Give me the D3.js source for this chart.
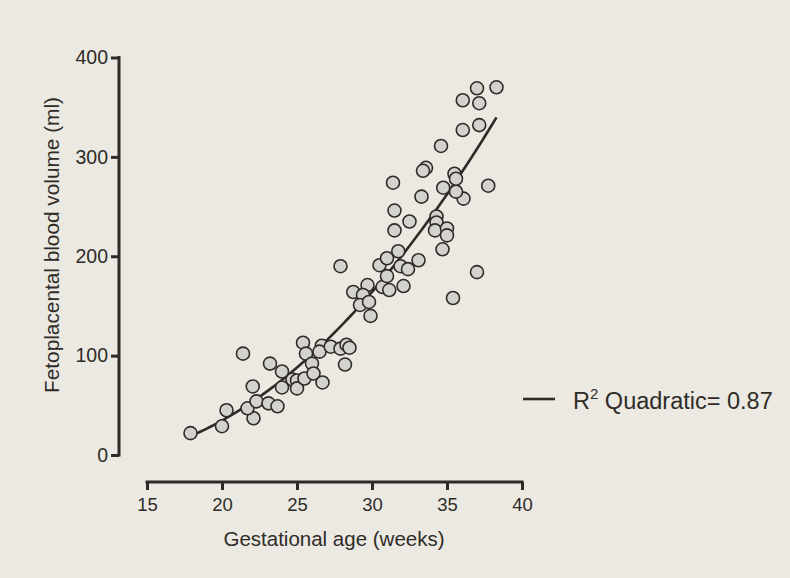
<!DOCTYPE html>
<meta charset="utf-8">
<style>
    body { margin: 0; background: #ebe9e2; }
    svg { display: block; }
    text { font-family: "Liberation Sans", Arial, sans-serif; fill: #2f2c28; }
    .axis path, .axis line { stroke: #2f2c28; stroke-width: 3; fill: none; }
    .axis text { font-size: 18.5px; font-family: "Liberation Sans", Arial, sans-serif; fill: #2f2c28; }
    .axis.yax text { font-size: 19.5px; }
    circle.pt { fill: #d3d2cc; stroke: #2f2c28; stroke-width: 1.6; }
    path.fit { fill: none; stroke: #2f2c28; stroke-width: 2.6; }
</style>
<body>
<script src="https://cdn.jsdelivr.net/npm/d3@7"></script>
<script>

    // gestational age (weeks) and fetoplacental blood volume (ml)
    var weeks = [17.9, 20.0, 20.3, 21.4, 22.05, 22.1, 21.7, 22.3, 23.1, 23.7,
                 23.2, 24.0, 24.0, 24.7, 25.0, 25.0, 25.5, 25.4, 25.6, 26.0,
                 26.1, 26.7, 26.65, 26.5, 27.25, 27.9, 28.3, 28.5, 28.2, 27.9,
                 30.5, 31.0, 31.75, 28.75, 29.7, 29.4, 29.2, 29.8, 29.9, 30.7,
                 31.15, 31.0, 32.1, 31.9, 32.4, 33.1, 34.7, 35.4, 37.0, 31.5,
                 32.5, 34.3, 34.3, 34.2, 35.0, 35.0, 31.5, 33.3, 36.1, 35.6,
                 34.75, 37.75, 35.5, 35.6, 31.4, 33.6, 33.4, 34.6, 36.05, 37.15,
                 36.05, 37.15, 37.0, 38.3];
    var volume = [22, 29, 45, 102, 69, 37, 47, 54, 52, 49,
                  92, 84, 68, 76, 75, 67, 77, 113, 102, 92,
                  82, 73, 110, 104, 109, 107, 111, 108, 91, 190,
                  191, 198, 205, 164, 171, 161, 151, 154, 140, 169,
                  166, 180, 170, 190, 187, 196, 207, 158, 184, 246,
                  235, 240, 234, 226, 228, 221, 226, 260, 258, 265,
                  269, 271, 283, 278, 274, 289, 286, 311, 327, 332,
                  357, 354, 369, 370];

    var xTicks = [15, 20, 25, 30, 35, 40];
    var yTicks = [0, 100, 200, 300, 400];
    var r2Text = "0.87";

    var pts = weeks.map(function(w, i) { return {w: w, v: volume[i]}; });

    // least-squares quadratic fit v = a + b*w + c*w^2
    function quadFit(data) {
        var S = [[0,0,0],[0,0,0],[0,0,0]], T = [0,0,0];
        data.forEach(function(d) {
            var p = [1, d.w, d.w * d.w];
            for (var i = 0; i < 3; i++) {
                T[i] += p[i] * d.v;
                for (var j = 0; j < 3; j++) S[i][j] += p[i] * p[j];
            }
        });
        // gaussian elimination
        var M = S.map(function(row, i) { return row.concat([T[i]]); });
        for (var i = 0; i < 3; i++) {
            for (var k = i + 1; k < 3; k++) {
                var f = M[k][i] / M[i][i];
                for (var j = i; j < 4; j++) M[k][j] -= f * M[i][j];
            }
        }
        var x = [0,0,0];
        for (var i = 2; i >= 0; i--) {
            var s = M[i][3];
            for (var j = i + 1; j < 3; j++) s -= M[i][j] * x[j];
            x[i] = s / M[i][i];
        }
        return x;
    }
    var coef = quadFit(pts);

    var width = 790, height = 578;

    var x = d3.scaleLinear().domain([15, 40]).range([147, 522]);
    var y = d3.scaleLinear().domain([0, 400]).range([455, 57.5]);

    var svg = d3.select("body").append("svg")
            .attr("width", width)
            .attr("height", height);

    svg.append("g")
            .attr("class", "axis yax")
            .attr("transform", "translate(119,0)")
            .call(d3.axisLeft(y).tickValues(yTicks).tickSize(8).tickPadding(3).tickSizeOuter(0))
            .call(function(g) { g.select(".domain").attr("d", "M0," + (y(0) + 1.5) + "V" + (y(400) - 1.5)); });

    svg.append("g")
            .attr("class", "axis xax")
            .attr("transform", "translate(0,482)")
            .call(d3.axisBottom(x).tickValues(xTicks).tickSize(8).tickPadding(8).tickSizeOuter(0))
            .call(function(g) { g.select(".domain").attr("d", "M" + (x(15) - 1.5) + ",0H" + (x(40) + 1.5)); });

    svg.append("text")
            .attr("transform", "translate(59,245) rotate(-90)")
            .attr("text-anchor", "middle")
            .style("font-size", "20.8px")
            .text("Fetoplacental blood volume (ml)");

    svg.append("text")
            .attr("x", 334)
            .attr("y", 546)
            .attr("text-anchor", "middle")
            .style("font-size", "20.5px")
            .text("Gestational age (weeks)");

    var wMin = d3.min(weeks), wMax = d3.max(weeks);
    var curve = d3.range(0, 61).map(function(i) {
        var w = wMin + (wMax - wMin) * i / 60;
        return [w, coef[0] + coef[1] * w + coef[2] * w * w];
    });

    svg.append("path")
            .attr("class", "fit")
            .attr("d", d3.line().x(function(d) { return x(d[0]); }).y(function(d) { return y(d[1]); })(curve));

    svg.selectAll("circle.pt").data(pts).enter()
            .append("circle")
            .attr("class", "pt")
            .attr("cx", function(d) { return x(d.w); })
            .attr("cy", function(d) { return y(d.v); })
            .attr("r", 6.5);

    // legend
    svg.append("line")
            .attr("x1", 523).attr("x2", 555)
            .attr("y1", 399).attr("y2", 399)
            .attr("stroke", "#2f2c28").attr("stroke-width", 2.6);

    var lt = svg.append("text")
            .attr("x", 573)
            .attr("y", 409)
            .style("font-size", "23.5px");
    lt.append("tspan").text("R");
    lt.append("tspan").attr("dy", -10).style("font-size", "15px").text("2");
    lt.append("tspan").attr("dy", 10).text(" Quadratic= " + r2Text);

</script>
